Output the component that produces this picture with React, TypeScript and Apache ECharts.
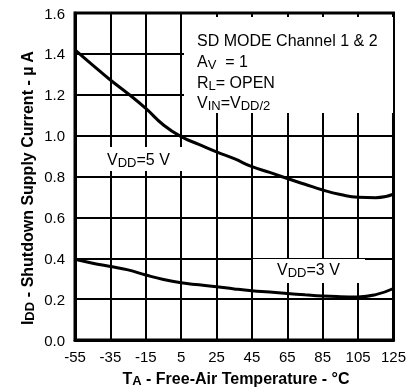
import React, { useEffect, useRef } from "react";
import * as echarts from "echarts";

const temperatures = [-55, -45, -35, -25, -15, -5, 5, 15, 25, 35, 45, 55, 65, 75, 85, 95, 105, 115, 125];
const vdd5 = [1.42, 1.345, 1.272, 1.205, 1.133, 1.052, 0.995, 0.957, 0.92, 0.887, 0.848, 0.82, 0.79, 0.762, 0.734, 0.712, 0.698, 0.696, 0.714];
const vdd3 = [0.395, 0.376, 0.36, 0.343, 0.318, 0.296, 0.28, 0.27, 0.261, 0.25, 0.241, 0.235, 0.228, 0.221, 0.215, 0.212, 0.211, 0.222, 0.252];
const yTicks = { min: 0, max: 1.6, interval: 0.2 };

const FONT = "'Liberation Sans', Arial, sans-serif";

export default function App() {
  const ref = useRef<HTMLDivElement>(null);
  useEffect(() => {
    if (!ref.current) return;
    const chart = echarts.init(ref.current, undefined, { renderer: "svg" });
    const base = { fontFamily: FONT, fontSize: 15, color: "#000" };
    const rich = {
      n: { fontFamily: FONT, fontSize: 16, color: "#000", lineHeight: 20, verticalAlign: "middle" },
      s: { fontFamily: FONT, fontSize: 13, color: "#000", lineHeight: 20, verticalAlign: "bottom" },
      nb: { fontFamily: FONT, fontSize: 16, fontWeight: "bold", color: "#000", lineHeight: 18, verticalAlign: "middle" },
      sb: { fontFamily: FONT, fontSize: 13, fontWeight: "bold", color: "#000", lineHeight: 18, verticalAlign: "bottom" },
    };
    const txt = (x: number, y: number, text: string, extra: any = {}) => ({
      type: "text",
      x,
      y,
      z: 100,
      style: { text, rich, textVerticalAlign: "middle", ...extra },
    });
    chart.setOption({
      animation: false,
      grid: { left: 75, top: 13, right: 10, bottom: 49, show: true, borderColor: "#000", borderWidth: 3 },
      xAxis: {
        type: "category",
        data: temperatures.map(String),
        boundaryGap: false,
        axisLine: { show: true, lineStyle: { color: "#000", width: 3 } },
        axisTick: { show: false },
        axisLabel: { ...base, interval: 1, margin: 9 },
        splitLine: { show: true, interval: 1, lineStyle: { color: "#000", width: 2 } },
      },
      yAxis: {
        type: "value",
        ...yTicks,
        axisLine: { show: true, lineStyle: { color: "#000", width: 3 } },
        axisTick: { show: false },
        axisLabel: { ...base, margin: 10, formatter: (v: number) => v.toFixed(1) },
        splitLine: { show: true, lineStyle: { color: "#000", width: 2 } },
      },
      series: [
        { name: "VDD=5 V", type: "line", data: vdd5, smooth: true, showSymbol: false, lineStyle: { color: "#000", width: 3 }, z: 10 },
        { name: "VDD=3 V", type: "line", data: vdd3, smooth: true, showSymbol: false, lineStyle: { color: "#000", width: 3 }, z: 10 },
      ],
      graphic: [
        { type: "rect", z: 90, shape: { x: 184, y: 17, width: 209, height: 96 }, style: { fill: "#fff" } },
        { type: "rect", z: 90, shape: { x: 97, y: 147, width: 96, height: 24 }, style: { fill: "#fff" } },
        { type: "rect", z: 90, shape: { x: 253, y: 259, width: 112, height: 24 }, style: { fill: "#fff" } },
        txt(197, 40, "{n|SD MODE Channel 1 & 2}"),
        txt(197, 61, "{n|A}{s|V}{n|  = 1}"),
        txt(197, 82, "{n|R}{s|L}{n|= OPEN}"),
        txt(197, 102, "{n|V}{s|IN}{n|=V}{s|DD/2}"),
        txt(107, 159, "{n|V}{s|DD}{n|=5 V}"),
        txt(277, 269, "{n|V}{s|DD}{n|=3 V}"),
        txt(236, 378, "{nb|T}{sb|A}{nb| - Free-Air Temperature - °C}", { textAlign: "center" }),
        {
          type: "text",
          x: 27,
          y: 188,
          rotation: Math.PI / 2,
          z: 100,
          style: {
            text: "{nb|I}{sb|DD}{nb| - Shutdown Supply Current - µ A}",
            rich,
            textAlign: "center",
            textVerticalAlign: "middle",
          },
        },
      ],
    });
    return () => chart.dispose();
  }, []);
  return <div ref={ref} style={{ position: "fixed", left: 0, top: 0, width: 409, height: 389 }} />;
}
